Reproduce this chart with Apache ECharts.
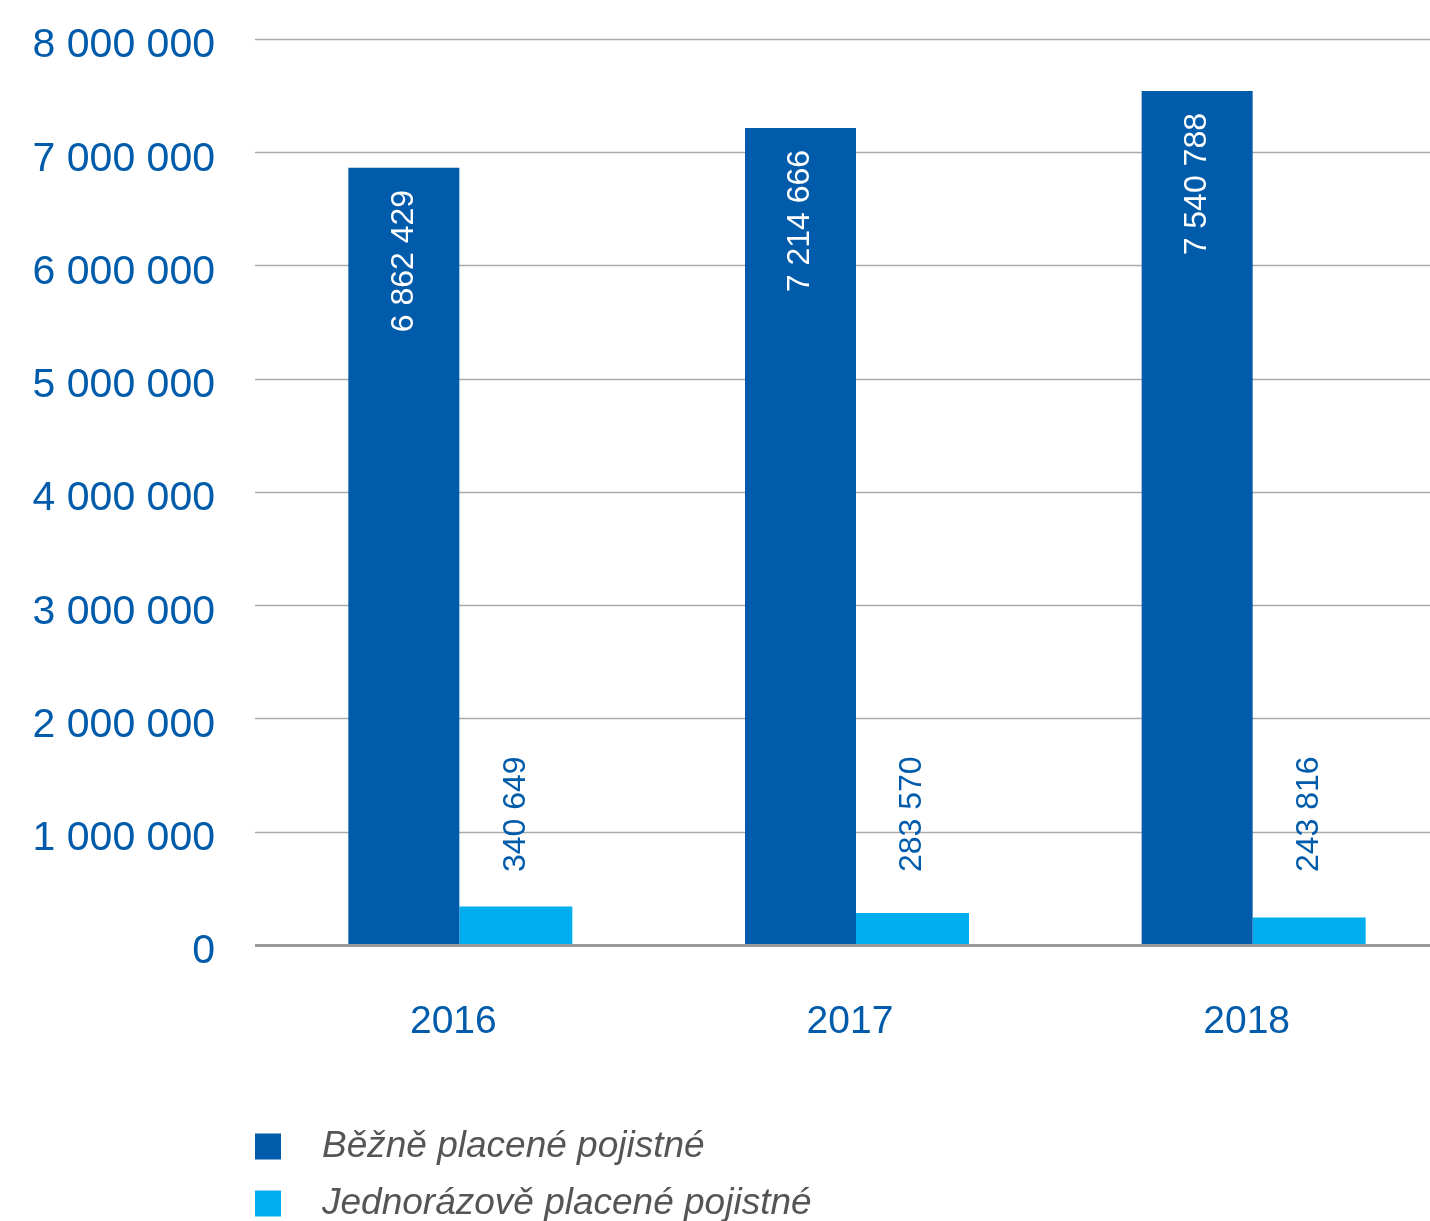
<!DOCTYPE html>
<html><head><meta charset="utf-8">
<script src="https://cdn.jsdelivr.net/npm/echarts@6/dist/echarts.min.js"></script>
<style>html,body{margin:0;padding:0;background:#fff;overflow:hidden}#c{width:1452px;height:1221px}</style>
</head><body><div id="c"></div>
<script>
const categories = ['2016', '2017', '2018'];
const regularPremium = [6862429, 7214666, 7540788];
const singlePremium = [340649, 283570, 243816];
const seriesNames = ['Běžně placené pojistné', 'Jednorázově placené pojistné'];

const fmt = v => String(v).replace(/\B(?=(\d{3})+(?!\d))/g, ' ');
const FONT = '"Liberation Sans", Arial, sans-serif';
const BLUE = '#005BAA';
const LIGHT = '#00AEEF';

const legendText = { fontFamily: FONT, fontSize: 37, fontStyle: 'italic', color: '#555555', padding: [0, 0, 0, 36] };

const chart = echarts.init(document.getElementById('c'));
chart.setOption({
  animation: false,
  textStyle: { fontFamily: FONT },
  grid: { left: 255, top: 39, width: 1190, bottom: 276, containLabel: false },
  legend: [
    { left: 250, top: 1123, itemWidth: 26, itemHeight: 26, icon: 'rect', textStyle: legendText, data: [seriesNames[0]] },
    { left: 250, top: 1180, itemWidth: 26, itemHeight: 26, icon: 'rect', textStyle: legendText, data: [seriesNames[1]] }
  ],
  xAxis: {
    type: 'category', data: categories,
    axisTick: { show: false },
    axisLine: { show: false },
    axisLabel: { color: BLUE, fontSize: 39, margin: 58 }
  },
  yAxis: {
    type: 'value', min: 0, max: 8000000, interval: 1000000,
    axisLine: { show: false }, axisTick: { show: false },
    axisLabel: {
      margin: 40, verticalAlign: 'middle',
      formatter: v => '{a|' + fmt(v) + '}',
      rich: { a: { color: BLUE, fontSize: 41, fontFamily: FONT, padding: [14, 0, 0, 0] } }
    },
    splitLine: { lineStyle: { color: '#AAAAAA', width: 1.3 } }
  },
  series: [
    {
      name: 'spacer', type: 'bar', data: [null, null, null],
      barWidth: 14, barGap: '0%', silent: true,
      itemStyle: { color: 'rgba(0,0,0,0)' }
    },
    {
      name: seriesNames[0], type: 'bar', data: regularPremium,
      barWidth: 111, barGap: '0%',
      itemStyle: { color: BLUE },
      label: {
        show: true, position: 'insideTop', rotate: 90, align: 'right', verticalAlign: 'middle',
        distance: 22, color: '#ffffff', fontSize: 32, formatter: p => fmt(p.value)
      },
      markLine: {
        silent: true, symbol: 'none', label: { show: false },
        lineStyle: { color: '#999999', width: 3, type: 'solid' },
        data: [{ yAxis: 0 }]
      },
      z: 3
    },
    {
      name: seriesNames[1], type: 'bar', data: singlePremium,
      barWidth: 113, barGap: '0%',
      itemStyle: { color: LIGHT },
      label: {
        show: true, position: 'insideBottom', rotate: 90, align: 'left', verticalAlign: 'middle',
        distance: 73, color: BLUE, fontSize: 32, formatter: p => fmt(p.value)
      },
      z: 2
    }
  ]
});
</script></body></html>
